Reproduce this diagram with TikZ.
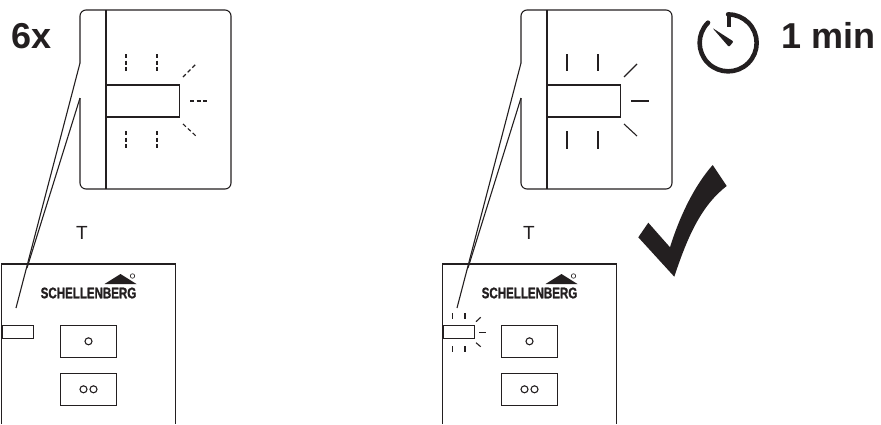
\documentclass[tikz,border=0pt]{standalone}
\usepackage{fontspec}
\setmainfont{Liberation Sans}
\newfontfamily\logofont[FakeStretch=0.75,BoldFeatures={FakeBold=1.2}]{Liberation Sans}
\usetikzlibrary{positioning,calc}
\definecolor{ink}{HTML}{231F20}

\begin{document}
\begin{tikzpicture}[
    x=1pt, y=-1pt,
    color=ink,
    line width=1.1pt,
    led/.style={draw, inner sep=0pt, minimum width=73pt, minimum height=32pt},
    smallled/.style={draw, inner sep=0pt, minimum width=31pt, minimum height=13pt},
    btn/.style={draw, inner sep=0pt, minimum width=56pt, minimum height=31.5pt},
    dot/.style={draw, circle, inner sep=0pt, minimum size=7pt},
    blink/.style={dash pattern=on 4pt off 2.6pt},
    steady/.style={solid},
    big/.style={font=\fontsize{36}{36}\selectfont\bfseries, inner sep=0pt},
    lbl/.style={font=\fontsize{19}{19}\selectfont, inner sep=0pt},
    logo/.style={font=\fontsize{15.4}{15.4}\logofont\bfseries, inner sep=0pt}
]
\useasboundingbox (0,0) rectangle (881,424);

% the two panels: blinking (dashed rays) and steady (solid rays)
\foreach \pn/\off/\ray in {a/0/blink, b/441/steady} {
  \begin{scope}[xshift=\off pt]
    % zoomed detail
    \coordinate (top\pn) at (80,63);
    \coordinate (low\pn) at (80,98);
    \draw[rounded corners=6pt] (top\pn) -- (80,10) -- (231,10) -- (231,189) -- (80,189) -- (low\pn);
    \draw (106,10) -- (106,189);
    \node[led, anchor=west] (led\pn) at (106,101) {};
    \foreach \tx in {126,157} {
      \draw[\ray] (\tx,54) -- (\tx,71);
      \draw[\ray] (\tx,131) -- (\tx,149);
    }
    \draw[\ray] (183,77) -- (196,64);
    \draw[\ray] (190,101) -- (208,101);
    \draw[\ray] (183,124) -- (196,136);
  \end{scope}
  \begin{scope}[xshift=\off pt-0.5pt]
    % device front
    \draw (2,424) -- (2,264) -- (176,264) -- (176,424);
    \node[smallled, anchor=west] (lamp\pn) at (2,332) {};
    \node[btn] (one\pn) at (89,341.3) {};
    \node[btn] (two\pn) at (89,389.3) {};
    \node[dot] (dotone\pn) at (89,341.3) {};
    \node[dot] (dotleft\pn) at (84,389.3) {};
    \node[dot] (dotright\pn) at (94,389.3) {};
    % logo
    \node[logo] (brand\pn) at (89,293) {SCHELLENBERG};
    \fill (105,284) -- (121,274) -- (137,284) -- cycle;
    \node[draw, circle, inner sep=0pt, minimum size=4.5pt, line width=.6pt] (reg\pn) at (133,276) {};
    % leader lines
    \coordinate (tip\pn) at (16.5,308);
    \coordinate (mrg\pn) at (27.5,268);
  \end{scope}
  \draw (top\pn) -- (tip\pn);
  \draw (low\pn) -- (mrg\pn);
}

% short rays round the small lamp, steady panel
\foreach \tx in {452.7,465} {
  \draw (\tx,313) -- (\tx,319);
  \draw (\tx,346) -- (\tx,352);
}
\draw (476,321.7) -- (480.7,317.3);
\draw (479.3,332.7) -- (486,332.7);
\draw (476,342.7) -- (480.7,346.7);

\node[lbl] (ta) at (82,233) {T};
\node[lbl] (tb) at (529,233) {T};
\node[big, anchor=west] (count) at (11,36) {6x};
\node[big, anchor=west] (time) at (781,35) {1 min};

% stopwatch
\draw[line width=4.6pt, line cap=round] (708,22.7) arc[start angle=225, end angle=-90, radius=28.5];
\draw[line width=4.6pt] (729,14.5) -- (729,27);
\fill[rounded corners=1pt] (712.5,28) -- (733.5,41.5) -- (729,47) -- cycle;

% check mark
\fill (712.7,165) -- (726.7,186) .. controls (702,205) and (688,235) .. (674.3,276.7)
  -- (638.3,237.3) -- (648.3,222.7) -- (670,247.3) .. controls (680,215) and (695,185) .. cycle;
\end{tikzpicture}
\end{document}
